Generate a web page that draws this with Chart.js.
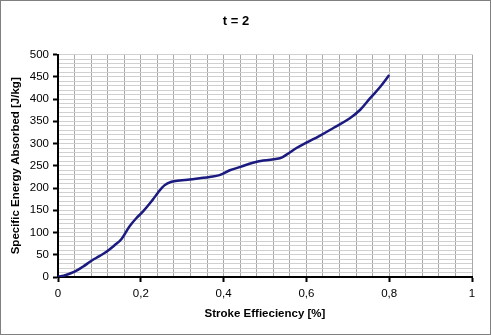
<!DOCTYPE html>
<html>
<head>
<meta charset="utf-8">
<script src="https://cdn.jsdelivr.net/npm/chart.js@4"></script>
<style>
  html, body { margin: 0; padding: 0; background: #fff; }
  #wrap { width: 491px; height: 335px; position: relative; }
</style>
</head>
<body>
<div id="wrap"><canvas id="myChart" width="491" height="335"></canvas></div>
<script>
'use strict';
// stroke efficiency (x) and specific energy absorbed (y)
let strokeEff = [0, 0.019, 0.04, 0.06, 0.08, 0.1, 0.116, 0.136, 0.153, 0.173, 0.189, 0.205, 0.229, 0.241, 0.257, 0.274,
    0.294, 0.318, 0.342, 0.366, 0.39, 0.415, 0.439, 0.471, 0.496, 0.536, 0.552, 0.576, 0.6, 0.633, 0.665,
    0.705, 0.73, 0.754, 0.778, 0.8];
let energy = [0, 4.5, 12, 23, 36, 47, 56, 71, 85, 114, 132, 147, 174, 189, 206, 214,
    217, 219, 222, 225, 229, 240, 247, 257, 262, 267, 275, 290, 302, 318, 335,
    357, 376, 402, 427, 454];
let chartTitle = 't = 2';
let xTitle = 'Stroke Effieciency [%]';
let yTitle = 'Specific Energy Absorbed [J/kg]';

let points = [];
for (let i = 0; i < strokeEff.length; i++) {
    points.push({ x: strokeEff[i], y: energy[i] });
}

function isMajor(v, step) {
    return Math.abs(v / step - Math.round(v / step)) < 1e-6;
}

// frame round the whole picture
let frame = {
    id: 'frame',
    afterDraw(chart) {
        let ctx = chart.ctx;
        ctx.save();
        ctx.strokeStyle = '#808080';
        ctx.lineWidth = 1;
        ctx.strokeRect(0.5, 0.5, chart.width - 1, chart.height - 1);
        ctx.restore();
    }
};

let ctx = document.getElementById('myChart').getContext('2d');
let myChart = new Chart(ctx, {
    type: 'line',
    data: {
        datasets: [{
            data: points,
            borderColor: '#1a1a80',
            borderWidth: 2.5,
            pointRadius: 0,
            tension: 0.4,
            fill: false
        }]
    },
    plugins: [frame],
    options: {
        responsive: false,
        animation: false,
        layout: { padding: { left: 0, right: 19, top: 0, bottom: 0 } },
        plugins: {
            legend: { display: false },
            tooltip: { enabled: false },
            title: {
                display: true,
                text: chartTitle,
                color: '#000',
                font: { family: 'Arial, "Liberation Sans"', size: 13, weight: 'bold' },
                padding: { top: 14, bottom: 25 }
            }
        },
        scales: {
            x: {
                type: 'linear',
                min: 0,
                max: 1,
                ticks: {
                    stepSize: 0.04,
                    autoSkip: false,
                    maxRotation: 0,
                    color: '#000',
                    padding: 5,
                    font: { family: 'Arial, "Liberation Sans"', size: 11.5 },
                    callback: function (v) {
                        return isMajor(v, 0.2) ? String(Math.round(v * 10) / 10).replace('.', ',') : '';
                    }
                },
                grid: {
                    color: '#a8a8a8',
                    lineWidth: 1,
                    tickLength: 5,
                    tickWidth: 2,
                    tickColor: function (c) {
                        return c.tick && isMajor(c.tick.value, 0.2) ? '#000' : 'rgba(0,0,0,0)';
                    }
                },
                border: { color: '#000', width: 2 },
                title: {
                    display: true,
                    text: xTitle,
                    color: '#000',
                    font: { family: 'Arial, "Liberation Sans"', size: 11.5, weight: 'bold' },
                    padding: { top: 6, bottom: 14 }
                },
                afterFit: function (scale) { scale.height = 58; }
            },
            y: {
                min: 0,
                max: 500,
                ticks: {
                    stepSize: 10,
                    autoSkip: false,
                    color: '#000',
                    padding: 4,
                    font: { family: 'Arial, "Liberation Sans"', size: 11.5 },
                    callback: function (v) {
                        return isMajor(v, 50) ? String(v) : '';
                    }
                },
                grid: {
                    color: '#d0d0d0',
                    lineWidth: 1,
                    tickLength: 5,
                    tickWidth: 2,
                    tickColor: function (c) {
                        return c.tick && isMajor(c.tick.value, 50) ? '#000' : 'rgba(0,0,0,0)';
                    }
                },
                border: { color: '#000', width: 2 },
                title: {
                    display: true,
                    text: yTitle,
                    color: '#000',
                    font: { family: 'Arial, "Liberation Sans"', size: 11.5, weight: 'bold' },
                    padding: { top: 9, bottom: 4 }
                },
                afterFit: function (scale) { scale.width = 58; }
            }
        }
    }
});
</script>
</body>
</html>
